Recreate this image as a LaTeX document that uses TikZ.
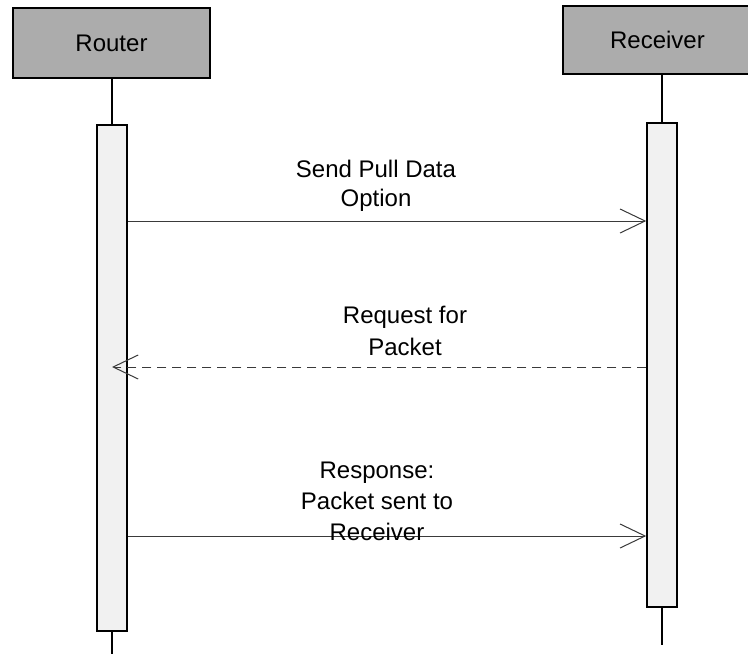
\documentclass[tikz,border=0pt]{standalone}
\usepackage{fontspec}
\setmainfont{Liberation Sans}
\usetikzlibrary{arrows.meta}
\definecolor{headgray}{HTML}{ACACAC}
\definecolor{bargray}{HTML}{F1F1F1}
\definecolor{msggray}{HTML}{3A3A3A}
\begin{document}
\begin{tikzpicture}[x=1pt,y=-1pt,
  header/.style={draw=black, line width=1.5pt, fill=headgray, inner sep=0pt,
    font=\fontsize{24}{28}\selectfont},
  actbar/.style={draw=black, line width=1.5pt, fill=bargray, minimum width=30pt, inner sep=0pt},
  life/.style={draw=black, line width=1.4pt},
  msg/.style={draw=msggray, line width=1pt,
    -{Straight Barb[length=25pt,width=24pt,line width=1pt]}},
  lbl/.style={anchor=base, inner sep=0pt, font=\fontsize{24}{30}\selectfont}]
\useasboundingbox[fill=white] (0,0) rectangle (748,654);

% participants
\node[header, minimum width=197pt, minimum height=70pt] (router) at (111.5,43) {Router};
\node[header, minimum width=189pt, minimum height=68pt] (receiver) at (657.5,40) {Receiver};

% activation bars
\node[actbar, minimum height=506pt] (rbar) at (112,378) {};
\node[actbar, minimum height=484pt] (cbar) at (662,365) {};

% lifelines
\coordinate (rend) at (112,654);
\coordinate (cend) at (662,645);
\draw[life] (rbar.north |- router.south) -- (rbar.north);
\draw[life] (rbar.south) -- (rend);
\draw[life] (cbar.north |- receiver.south) -- (cbar.north);
\draw[life] (cbar.south) -- (cend);

% message rows
\coordinate (y1) at (0,221);
\coordinate (y2) at (0,367);
\coordinate (y3) at (0,536);

\draw[msg] (rbar.east |- y1) -- (cbar.west |- y1);
\node[lbl] (m1a) at (376,177) {Send Pull Data};
\node[lbl] (m1b) at (376,206) {Option};

\draw[msg, dashed, dash pattern=on 9pt off 6pt] (cbar.west |- y2) -- (rbar.center |- y2);
\node[lbl] (m2a) at (405,323) {Request for};
\node[lbl] (m2b) at (405,355) {Packet};

\draw[msg] (rbar.east |- y3) -- (cbar.west |- y3);
\node[lbl] (m3a) at (377,478) {Response:};
\node[lbl] (m3b) at (377,509) {Packet sent to};
\node[lbl] (m3c) at (377,540) {Receiver};
\end{tikzpicture}
\end{document}
